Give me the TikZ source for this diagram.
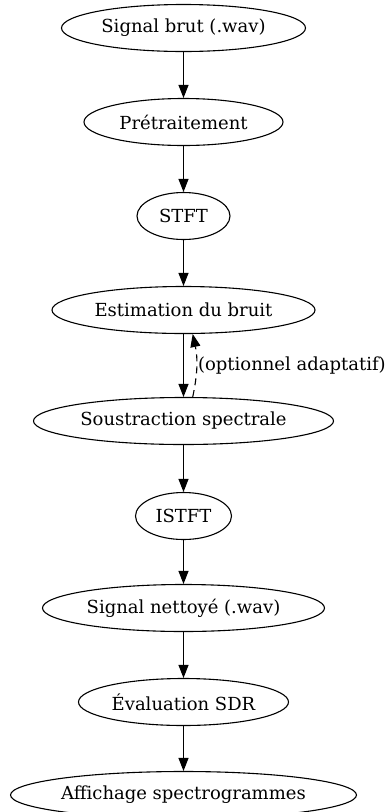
\documentclass[tikz,border=0pt]{standalone}
\usepackage{fontspec}
\setmainfont{DejaVu Serif}
\usetikzlibrary{shapes.geometric, arrows.meta}

\begin{document}
\begin{tikzpicture}[x=1pt, y=-1pt, font=\fontsize{18}{21}\selectfont,
  etape/.style={ellipse, draw, line width=1.1pt, minimum height=47pt, inner sep=0pt},
  fleche/.style={-{Triangle[length=13pt, width=10pt]}, line width=1.1pt}]
  \useasboundingbox (0,0) rectangle (385,812);
  \node[etape, minimum width=244pt] (brut) at (183.5,28) {Signal brut (.wav)};
  \node[etape, minimum width=199pt] (pretr) at (183.5,122) {Prétraitement};
  \node[etape, minimum width=93pt] (stft) at (183.5,216) {STFT};
  \node[etape, minimum width=263pt] (bruit) at (183.5,310) {Estimation du bruit};
  \node[etape, minimum width=300pt] (soustr) at (183.5,421) {Soustraction spectrale};
  \node[etape, minimum width=96pt] (istft) at (183.5,516) {ISTFT};
  \node[etape, minimum width=282pt] (nettoye) at (183.5,608) {Signal nettoyé (.wav)};
  \node[etape, minimum width=210pt] (sdr) at (183.5,702) {Évaluation SDR};
  \node[etape, minimum width=346pt] (affich) at (183.5,795) {Affichage spectrogrammes};
  \draw[fleche] (brut) -- (pretr); \draw[fleche] (pretr) -- (stft);
  \draw[fleche] (stft) -- (bruit); \draw[fleche] (bruit) -- (soustr);
  \draw[fleche, dash pattern=on 7pt off 5pt] (soustr.69) to[bend right=12]
    node[pos=0.5, anchor=west, inner sep=1pt] (option) {(optionnel adaptatif)} (bruit.-69);
  \draw[fleche] (soustr) -- (istft); \draw[fleche] (istft) -- (nettoye);
  \draw[fleche] (nettoye) -- (sdr); \draw[fleche] (sdr) -- (affich);
\end{tikzpicture}
\end{document}
